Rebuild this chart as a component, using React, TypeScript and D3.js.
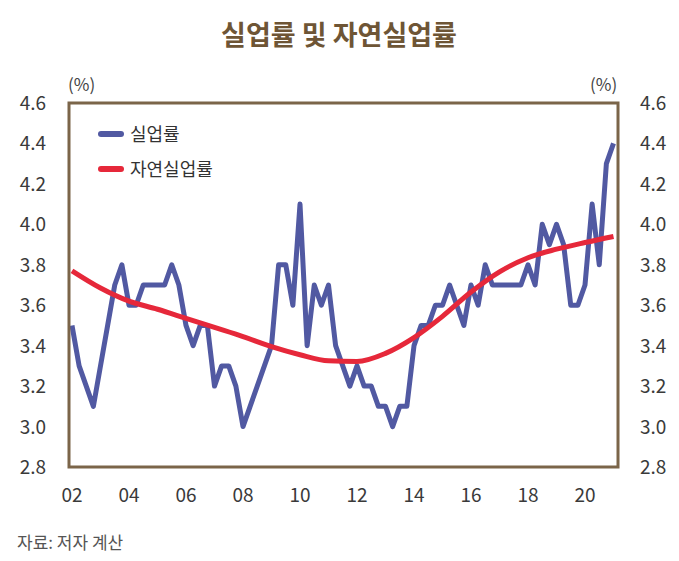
import React from "react";
import * as d3 from "d3";

// Quarterly data 2002Q1 .. 2021Q1
const unemployment: number[] = [
  3.5, 3.3, 3.2, 3.1, 3.3, 3.5, 3.7, 3.8,
  3.6, 3.6, 3.7, 3.7, 3.7, 3.7, 3.8, 3.7,
  3.5, 3.4, 3.5, 3.5, 3.2, 3.3, 3.3, 3.2,
  3.0, 3.1, 3.2, 3.3, 3.4, 3.8, 3.8, 3.6,
  4.1, 3.4, 3.7, 3.6, 3.7, 3.4, 3.3, 3.2,
  3.3, 3.2, 3.2, 3.1, 3.1, 3.0, 3.1, 3.1,
  3.4, 3.5, 3.5, 3.6, 3.6, 3.7, 3.6, 3.5,
  3.7, 3.6, 3.8, 3.7, 3.7, 3.7, 3.7, 3.7,
  3.8, 3.7, 4.0, 3.9, 4.0, 3.9, 3.6, 3.6,
  3.7, 4.1, 3.8, 4.3, 4.4,
];

// Natural rate read at the first quarter of each year (index in quarters)
const naturalIdx: number[] = [0, 4, 8, 12, 16, 20, 24, 28, 32, 36, 40, 44, 48, 52, 56, 60, 64, 68, 72, 76];
const naturalRate: number[] = [
  3.77, 3.685, 3.62, 3.58, 3.535, 3.49, 3.445, 3.395, 3.355, 3.325,
  3.322, 3.362, 3.44, 3.545, 3.665, 3.765, 3.835, 3.877, 3.91, 3.94,
];

const yTicks: number[] = [2.8, 3.0, 3.2, 3.4, 3.6, 3.8, 4.0, 4.2, 4.4, 4.6];
const xTickIdx: number[] = [0, 8, 16, 24, 32, 40, 48, 56, 64, 72];
const xTickLabels: string[] = ["02", "04", "06", "08", "10", "12", "14", "16", "18", "20"];

const seriesNames: string[] = ["실업률", "자연실업률"];
const title = "실업률 및 자연실업률";
const source = "자료: 저자 계산";

const W = 679;
const H = 561;
const box = { left: 69, right: 618, top: 103, bottom: 467 };
const BLUE = "#5159a2";
const RED = "#e6283a";
const FRAME = "#7b6549";
const FONT = "'Noto Sans CJK KR', 'Noto Sans', sans-serif";

export default function App() {
  const x = d3.scaleLinear().domain([0, 76]).range([72, 613.5]);
  const y = d3.scaleLinear().domain([2.8, 4.6]).range([box.bottom, box.top]);

  const blueLine = d3
    .line<number>()
    .x((_, i) => x(i))
    .y((d) => y(d))
    .curve(d3.curveLinear)(unemployment) as string;

  const redLine = d3
    .line<number>()
    .x((_, i) => x(naturalIdx[i]))
    .y((d) => y(d))
    .curve(d3.curveMonotoneX)(naturalRate) as string;

  return (
    <svg
      width={W}
      height={H}
      style={{ position: "absolute", left: 0, top: 0, background: "#fff" }}
      fontFamily={FONT}
    >
      <rect x={0} y={0} width={W} height={H} fill="#fff" />
      <text
        x={339}
        y={45}
        textAnchor="middle"
        fontSize={27}
        fontWeight={700}
        fill="#6e5535"
      >
        {title}
      </text>

      <text x={68} y={91} fontSize={17} fill="#444">(%)</text>
      <text x={590} y={91} fontSize={17} fill="#444">(%)</text>

      {yTicks.map((t) => (
        <g key={t}>
          <text x={46} y={y(t) + 7} textAnchor="end" fontSize={19} fill="#3a3a3a">
            {t.toFixed(1)}
          </text>
          <text x={640} y={y(t) + 7} textAnchor="start" fontSize={19} fill="#3a3a3a">
            {t.toFixed(1)}
          </text>
        </g>
      ))}

      {xTickIdx.map((t, i) => (
        <text key={t} x={x(t)} y={502} textAnchor="middle" fontSize={19} fill="#3a3a3a">
          {xTickLabels[i]}
        </text>
      ))}

      <path
        d={blueLine}
        fill="none"
        stroke={BLUE}
        strokeWidth={5}
        strokeLinejoin="round"
        strokeLinecap="butt"
      />
      <path d={redLine} fill="none" stroke={RED} strokeWidth={5} strokeLinecap="butt" />

      <rect
        x={box.left}
        y={box.top}
        width={box.right - box.left}
        height={box.bottom - box.top}
        fill="none"
        stroke={FRAME}
        strokeWidth={3}
      />

      <line x1={101} x2={121} y1={134} y2={134} stroke={BLUE} strokeWidth={6} strokeLinecap="round" />
      <text x={130} y={141} fontSize={18} fill="#333">{seriesNames[0]}</text>
      <line x1={101} x2={121} y1={169} y2={169} stroke={RED} strokeWidth={6} strokeLinecap="round" />
      <text x={130} y={176} fontSize={18} fill="#333">{seriesNames[1]}</text>

      <text x={17} y={549} fontSize={17} fill="#555">{source}</text>
    </svg>
  );
}
